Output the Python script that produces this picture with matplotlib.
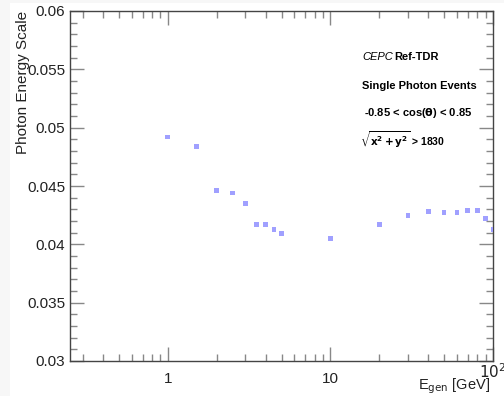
import numpy as np
import matplotlib.pyplot as plt
from matplotlib.patches import Rectangle
from matplotlib.ticker import FixedLocator, NullFormatter

# data
energy = [1, 1.5, 2, 2.5, 3, 3.5, 4, 4.5, 5, 10, 20, 30, 40, 50, 60, 70, 80, 90, 100]
scale = [0.0492, 0.0484, 0.0446, 0.0444, 0.0435, 0.0417, 0.0417, 0.0413, 0.0409,
         0.0405, 0.0417, 0.0425, 0.0428, 0.0427, 0.0427, 0.0429, 0.0429, 0.0422, 0.0413]
xticks = [1, 10]
xtick_labels = ["1", "10"]
yticks = [0.03, 0.035, 0.04, 0.045, 0.05, 0.055, 0.06]
ytick_labels = ["0.03", "0.035", "0.04", "0.045", "0.05", "0.055", "0.06"]

plt.rcParams['font.family'] = ['Liberation Sans', 'DejaVu Sans']

fig = plt.figure(figsize=(5.04, 3.96), dpi=100, facecolor='#f7f7f7')
# white canvas panel (gray strip at left and top)
fig.patches.append(Rectangle((10/504, 0), 1, 1 - 3/396, transform=fig.transFigure,
                             fc='white', ec='none', zorder=-10))

ax = fig.add_axes([70/504, 35/396, 423/504, 350/396])
ax.set_zorder(1)
ax.set_facecolor('white')

ax.scatter(energy, scale, marker='s', s=12, color='#a0a0ff', edgecolors='none', zorder=3)

ax.set_xscale('log')
ax.set_xlim(0.25, 100)
ax.set_ylim(0.03, 0.06)

ax.xaxis.set_major_locator(FixedLocator(xticks + [100]))
ax.set_xticklabels(xtick_labels + [""])
minors = [m * d for d in [0.1, 1, 10] for m in range(2, 10) if 0.25 <= m * d <= 100]
ax.xaxis.set_minor_locator(FixedLocator(minors))
ax.xaxis.set_minor_formatter(NullFormatter())

ax.set_yticks(yticks)
ax.set_yticklabels(ytick_labels)
ax.yaxis.set_minor_locator(FixedLocator(np.arange(0.03, 0.0601, 0.001)))

ax.tick_params(which='both', direction='in', top=True, right=True, color='#888888',
               labelsize=11, labelcolor='#222222')
ax.tick_params(which='major', length=10, width=1)
ax.tick_params(which='minor', length=5, width=1)
ax.tick_params(axis='x', which='major', pad=8)
for sp in ax.spines.values():
    sp.set_color('#444444')
    sp.set_linewidth(1)

# ROOT style label for the last decade, slightly raised
ax.text(1.0, -0.004, "$10^2$", transform=ax.transAxes, fontsize=11, color='#222222',
        ha='center', va='top')

ax.set_ylabel("Photon Energy Scale", fontsize=11, color='#222222', loc='top', labelpad=-2)
fig.text(490/504, 1 - 386/396, r"E$_{\mathrm{gen}}$ [GeV]", fontsize=10.5, color='#222222',
         ha='right', va='center')

# annotations
fig.text(362/504, 1 - 57/396, "CEPC", style='italic', fontsize=8, va='center')
fig.text(394/504, 1 - 57/396, "Ref-TDR", weight='bold', fontsize=8, va='center')
fig.text(362/504, 1 - 86/396, "Single Photon Events", weight='bold', fontsize=8, va='center')
fig.text(364/504, 1 - 113/396, r"-0.85 < cos($\mathbf{\theta}$) < 0.85", weight='bold',
         fontsize=8, va='center')
fig.text(360/504, 1 - 140/396, r"$\mathbf{\sqrt{x^2 + y^2}}$ > 1830", weight='bold',
         fontsize=7.5, va='center')

fig.savefig("out.png", dpi=100, facecolor=fig.get_facecolor())
